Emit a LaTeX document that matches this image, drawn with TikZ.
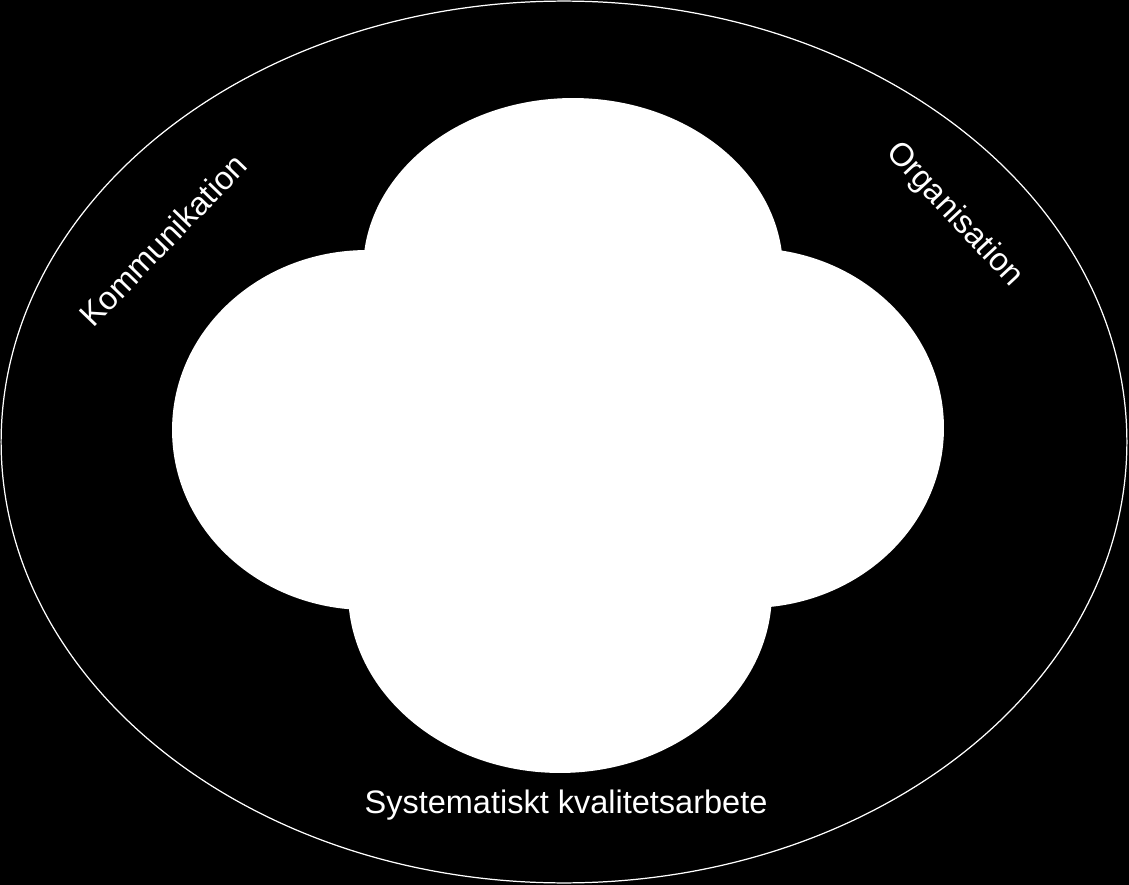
\documentclass[tikz,border=0pt]{standalone}
\usepackage{fontspec}
\setmainfont{Liberation Sans}
\usetikzlibrary{shapes.geometric}

\begin{document}
\begin{tikzpicture}[x=0.02cm,y=-0.02cm,
    petal/.style={ellipse,fill=white,inner sep=0pt,outer sep=0pt},
    ringlabel/.style={text=white,inner sep=0pt,font=\fontsize{18.5}{22}\selectfont}]
                % Background
                \fill[black] (0,0) rectangle (1129,885);
                \useasboundingbox (0,0) rectangle (1129,885);

                % Outer ring
                \node[ellipse,draw=white,line width=0.7pt,inner sep=0pt,minimum width=22.52cm,minimum height=17.64cm] (ring) at (564,442) {};

                % Petals
                \node[petal,minimum width=8.4cm,minimum height=6.88cm] (ptop) at (573,270) {};
                \node[petal,minimum width=7.8cm,minimum height=7.2cm] (pleft) at (367,430) {};
                \node[petal,minimum width=7.8cm,minimum height=7.2cm] (pright) at (749,428) {};
                \node[petal,minimum width=8.48cm,minimum height=7.24cm] (pbottom) at (560,592) {};

                % Labels
                \node[ringlabel,rotate=46] (komm) at (163,240) {Kommunikation};
                \node[ringlabel,rotate=-47] (org) at (954,215) {Organisation};
                \node[ringlabel] (kval) at (566,805) {Systematiskt kvalitetsarbete};
\end{tikzpicture}
\end{document}
